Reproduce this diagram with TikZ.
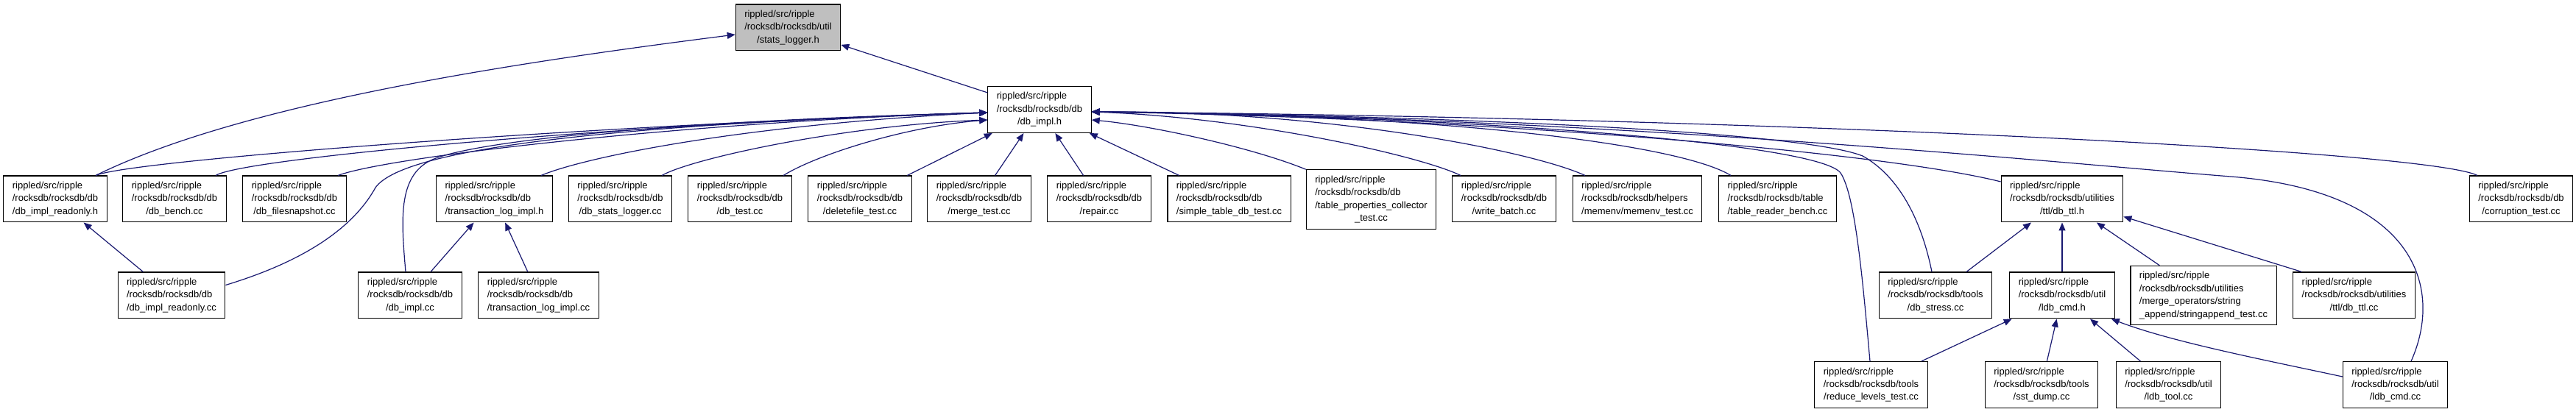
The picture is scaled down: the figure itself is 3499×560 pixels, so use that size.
\documentclass[tikz,border=0pt]{standalone}
\usepackage{fontspec}
\setmainfont{Liberation Sans}
\usetikzlibrary{arrows.meta,calc}
\definecolor{midblue}{RGB}{25,25,112}
% file label: first lines left, last line centred
\newcommand{\fpath}[2]{\begin{tabular}{@{}l@{}}rippled/src/ripple\\#1\\\multicolumn{1}{@{}c@{}}{#2}\end{tabular}}

\begin{document}
\begin{tikzpicture}[x=0.5pt,y=-0.5pt,
 box/.style={draw,line width=0.55pt,fill=white,inner xsep=6pt,inner ysep=2.6pt,font=\fontsize{6.5}{8.75}\selectfont},
 dep/.style={draw=midblue,line width=0.6pt,-{Triangle[length=5.5pt,width=4.5pt]}}]
\useasboundingbox (0,0) rectangle (3499,560);
% top levels
\node[box,fill=black!25] (stlog) at (1070.5,37.5) {\fpath{/rocksdb/rocksdb/util}{/stats\_logger.h}};
\node[box] (dbimplh) at (1412,149) {\fpath{/rocksdb/rocksdb/db}{/db\_impl.h}};
% second row
\node[box] (rdonlyh) at (75,270.5) {\fpath{/rocksdb/rocksdb/db}{/db\_impl\_readonly.h}};
\node[box] (bench) at (237,270.5) {\fpath{/rocksdb/rocksdb/db}{/db\_bench.cc}};
\node[box] (fsnap) at (400,270.5) {\fpath{/rocksdb/rocksdb/db}{/db\_filesnapshot.cc}};
\node[box] (tlogh) at (671.5,270.5) {\fpath{/rocksdb/rocksdb/db}{/transaction\_log\_impl.h}};
\node[box] (statscc) at (842.5,270.5) {\fpath{/rocksdb/rocksdb/db}{/db\_stats\_logger.cc}};
\node[box] (dbtest) at (1005,270.5) {\fpath{/rocksdb/rocksdb/db}{/db\_test.cc}};
\node[box] (delfile) at (1168,270.5) {\fpath{/rocksdb/rocksdb/db}{/deletefile\_test.cc}};
\node[box] (merge) at (1330,270.5) {\fpath{/rocksdb/rocksdb/db}{/merge\_test.cc}};
\node[box] (repair) at (1493,270.5) {\fpath{/rocksdb/rocksdb/db}{/repair.cc}};
\node[box] (simple) at (1669.5,270.5) {\fpath{/rocksdb/rocksdb/db}{/simple\_table\_db\_test.cc}};
\node[box] (tprops) at (1862.5,271) {\fpath{/rocksdb/rocksdb/db\\/table\_properties\_collector}{\_test.cc}};
\node[box] (wbatch) at (2043,270.5) {\fpath{/rocksdb/rocksdb/db}{/write\_batch.cc}};
\node[box] (memenv) at (2224,270.5) {\fpath{/rocksdb/rocksdb/helpers}{/memenv/memenv\_test.cc}};
\node[box] (trbench) at (2414.5,270.5) {\fpath{/rocksdb/rocksdb/table}{/table\_reader\_bench.cc}};
\node[box] (ttlh) at (2801,270.5) {\fpath{/rocksdb/rocksdb/utilities}{/ttl/db\_ttl.h}};
\node[box] (corrupt) at (3424.5,270.5) {\fpath{/rocksdb/rocksdb/db}{/corruption\_test.cc}};
% third row
\node[box] (rdonlycc) at (233,401.5) {\fpath{/rocksdb/rocksdb/db}{/db\_impl\_readonly.cc}};
\node[box] (implcc) at (557,401.5) {\fpath{/rocksdb/rocksdb/db}{/db\_impl.cc}};
\node[box] (tlogcc) at (731.5,401.5) {\fpath{/rocksdb/rocksdb/db}{/transaction\_log\_impl.cc}};
\node[box] (stress) at (2629,401.5) {\fpath{/rocksdb/rocksdb/tools}{/db\_stress.cc}};
\node[box] (ldbh) at (2801,401.5) {\fpath{/rocksdb/rocksdb/util}{/ldb\_cmd.h}};
\node[box] (strapp) at (2993,401.5) {\fpath{/rocksdb/rocksdb/utilities\\/merge\_operators/string}{\_append/stringappend\_test.cc}};
\node[box] (ttlcc) at (3197.5,401.5) {\fpath{/rocksdb/rocksdb/utilities}{/ttl/db\_ttl.cc}};
% bottom row
\node[box] (reduce) at (2541.5,523) {\fpath{/rocksdb/rocksdb/tools}{/reduce\_levels\_test.cc}};
\node[box] (sst) at (2773,523) {\fpath{/rocksdb/rocksdb/tools}{/sst\_dump.cc}};
\node[box] (ldbtool) at (2945.5,523) {\fpath{/rocksdb/rocksdb/util}{/ldb\_tool.cc}};
\node[box] (ldbcc) at (3253.5,523) {\fpath{/rocksdb/rocksdb/util}{/ldb\_cmd.cc}};
% includes of stats_logger.h
\draw[dep] ($(rdonlyh.north)+(55,0)$) .. controls (330,140) and (700,85) .. ($(stlog.west)+(0,9.5)$);
\draw[dep] (dbimplh) -- (stlog);
% includes of db_impl.h, left side
\draw[dep] ($(rdonlyh.north)+(55,0)$) .. controls (175,218) and (800,170) .. ($(dbimplh.west)+(0,4)$);
\draw[dep] ($(bench.north)+(56,0)$) .. controls (330,215) and (850,168) .. ($(dbimplh.west)+(0,4)$);
\draw[dep] ($(fsnap.north)+(59,0)$) .. controls (530,212) and (950,165) .. ($(dbimplh.west)+(0,4)$);
\draw[dep] ($(rdonlycc.east)+(0,-14)$) .. controls (430,350) and (485,300) .. (510,255)
 .. controls (545,205) and (800,170) .. ($(dbimplh.west)+(0,4)$);
\draw[dep] ($(implcc.north)+(-6,0)$) .. controls (545,300) and (540,240) .. (585,218)
 .. controls (640,192) and (900,165) .. ($(dbimplh.west)+(0,4)$);
\draw[dep] ($(tlogh.north)+(63.5,0)$) .. controls (790,215) and (1000,170) .. ($(dbimplh.west)+(0,4)$);
\draw[dep] ($(statscc.north)+(56.5,0)$) .. controls (940,215) and (1150,170) .. ($(dbimplh.west)+(0,14)$);
\draw[dep] ($(dbtest.north)+(59,0)$) .. controls (1110,210) and (1230,172) .. ($(dbimplh.west)+(0,14)$);
\draw[dep] (delfile) -- (dbimplh);
\draw[dep] (merge) -- (dbimplh);
\draw[dep] (repair) -- (dbimplh);
\draw[dep] (simple) -- (dbimplh);
% includes of db_impl.h, right side
\draw[dep] (tprops.north west) .. controls (1700,200) and (1560,170) .. ($(dbimplh.east)+(0,14)$);
\draw[dep] ($(wbatch.north)+(-59,0)$) .. controls (1930,212) and (1700,160) .. ($(dbimplh.east)+(0,3)$);
\draw[dep] ($(memenv.north)+(-71,0)$) .. controls (2080,205) and (1800,150) .. ($(dbimplh.east)+(0,3)$);
\draw[dep] ($(trbench.north)+(-63.5,0)$) .. controls (2280,195) and (1950,155) .. ($(dbimplh.east)+(0,3)$);
\draw[dep] ($(reduce.north)+(-1.5,0)$) .. controls (2530,380) and (2520,265) .. (2500,235)
 .. controls (2470,195) and (2000,158) .. ($(dbimplh.east)+(0,3)$);
\draw[dep] ($(stress.north)+(-5,0)$) .. controls (2610,300) and (2580,240) .. (2530,212)
 .. controls (2450,180) and (2000,158) .. ($(dbimplh.east)+(0,3)$);
\draw[dep] ($(ttlh.west)+(0,-23.5)$) .. controls (2550,205) and (2000,160) .. ($(dbimplh.east)+(0,3)$);
\draw[dep] ($(ldbcc.north)+(21.5,0)$) .. controls (3320,390) and (3280,260) .. (3030,240)
 .. controls (2800,222) and (2200,160) .. ($(dbimplh.east)+(0,3)$);
\draw[dep] ($(corrupt.north)+(-59.5,0)$) .. controls (3300,205) and (2400,160) .. ($(dbimplh.east)+(0,3)$);
% lower levels
\draw[dep] (rdonlycc) -- (rdonlyh);
\draw[dep] (implcc) -- (tlogh);
\draw[dep] (tlogcc) -- (tlogh);
\draw[dep] (stress) -- (ttlh);
\draw[dep] (ldbh) -- (ttlh);
\draw[dep] (strapp) -- (ttlh);
\draw[dep] ($(ttlcc.north)+(-71,0)$) -- ($(ttlh.east)+(0,24)$);
\draw[dep] (reduce) -- (ldbh);
\draw[dep] (sst) -- (ldbh);
\draw[dep] (ldbtool) -- (ldbh);
\draw[dep] ($(ldbcc.west)+(0,-11)$) .. controls (3080,490) and (2950,465) .. ($(ldbh.south east)+(-5,0)$);
\end{tikzpicture}
\end{document}
